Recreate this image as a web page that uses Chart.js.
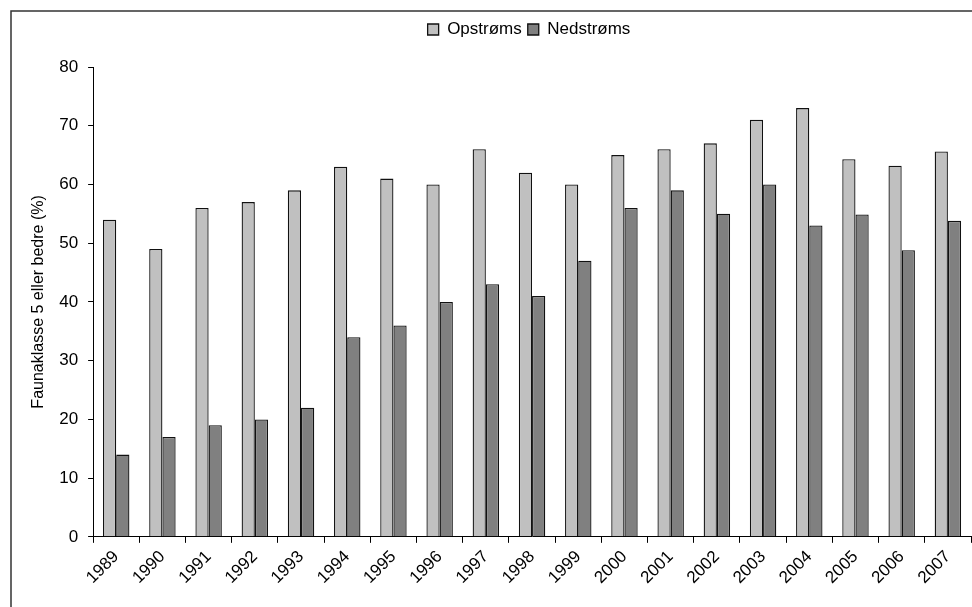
<!DOCTYPE html>
<html>
<head>
<meta charset="utf-8">
<script src="https://cdn.jsdelivr.net/npm/chart.js@4.4.0/dist/chart.umd.min.js"></script>
<style>
  html, body { margin: 0; padding: 0; background: #fff; }
  #wrap { width: 972px; height: 607px; position: relative; }
</style>
</head>
<body>
<div id="wrap"><canvas id="faunaChart"></canvas></div>
<script>
    // data
    const years = ["1989", "1990", "1991", "1992", "1993", "1994", "1995", "1996", "1997", "1998",
                   "1999", "2000", "2001", "2002", "2003", "2004", "2005", "2006", "2007"];
    const opstroms = [54, 49, 56, 57, 59, 63, 61, 60, 66, 62, 60, 65, 66, 67, 71, 73, 64.3, 63.2, 65.6];
    const nedstroms = [14, 17, 19, 20, 22, 34, 36, 40, 43, 41, 47, 56, 59, 55, 60, 53, 54.9, 48.8, 53.8];
    const yTicks = [0, 10, 20, 30, 40, 50, 60, 70, 80];

    const fontFamily = "'Liberation Sans', Arial, sans-serif";

    // the outer frame around the chart (cut off at right and bottom)
    const framePlugin = {
        id: "frame",
        afterDraw(chart) {
            const c = chart.ctx;
            c.save();
            c.strokeStyle = "#333";
            c.lineWidth = 1.5;
            c.strokeRect(11, 11, 1200, 1200);
            c.restore();
        }
    };

    // push the plot down below the legend, and nudge the legend right a bit
    const legendGap = {
        id: "legendGap",
        beforeInit(chart) {
            const lg = chart.legend;
            const origFit = lg.fit;
            lg.fit = function() {
                origFit.bind(lg)();
                this.height += 19;
            };
            const origDraw = lg.draw;
            lg.draw = function() {
                lg.ctx.save();
                lg.ctx.translate(32, 0);
                origDraw.bind(lg)();
                lg.ctx.restore();
            };
        }
    };

    const ctx = document.getElementById("faunaChart").getContext("2d");
    const chart = new Chart(ctx, {
        type: "bar",
        data: {
            labels: years,
            datasets: [{
                label: "Opstrøms",
                data: opstroms,
                backgroundColor: "#c0c0c0",
                borderColor: "#111",
                borderWidth: 1.3
            }, {
                label: "Nedstrøms",
                data: nedstroms,
                backgroundColor: "#808080",
                borderColor: "#111",
                borderWidth: 1.3
            }]
        },
        options: {
            responsive: true,
            maintainAspectRatio: false,
            animation: false,
            devicePixelRatio: 1,
            layout: { padding: { top: 15, left: 23, right: 1, bottom: 15 } },
            datasets: { bar: { categoryPercentage: 0.572, barPercentage: 1.0 } },
            plugins: {
                tooltip: { enabled: false },
                legend: {
                    position: "top",
                    labels: {
                        color: "#000",
                        font: { family: fontFamily, size: 17 },
                        boxWidth: 11,
                        boxHeight: 11,
                        padding: 6
                    }
                }
            },
            scales: {
                x: {
                    offset: true,
                    grid: { display: true, drawOnChartArea: false, drawTicks: true, tickLength: 6, color: "#000", offset: true },
                    border: { display: true, color: "#000", width: 1 },
                    ticks: {
                        color: "#000",
                        font: { family: fontFamily, size: 17 },
                        minRotation: 45,
                        maxRotation: 45,
                        autoSkip: false,
                        padding: 4
                    }
                },
                y: {
                    min: 0,
                    max: 80,
                    afterBuildTicks(axis) { axis.ticks = yTicks.map(v => ({ value: v })); },
                    grid: { display: true, drawOnChartArea: false, drawTicks: true, tickLength: 5, color: "#000" },
                    border: { display: true, color: "#000", width: 1 },
                    ticks: {
                        color: "#000",
                        font: { family: fontFamily, size: 17 },
                        padding: 10
                    },
                    title: {
                        display: true,
                        text: "Faunaklasse 5 eller bedre (%)",
                        color: "#000",
                        font: { family: fontFamily, size: 16 },
                        padding: { top: 6, bottom: 1 }
                    }
                }
            }
        },
        plugins: [framePlugin, legendGap]
    });
</script>
</body>
</html>
